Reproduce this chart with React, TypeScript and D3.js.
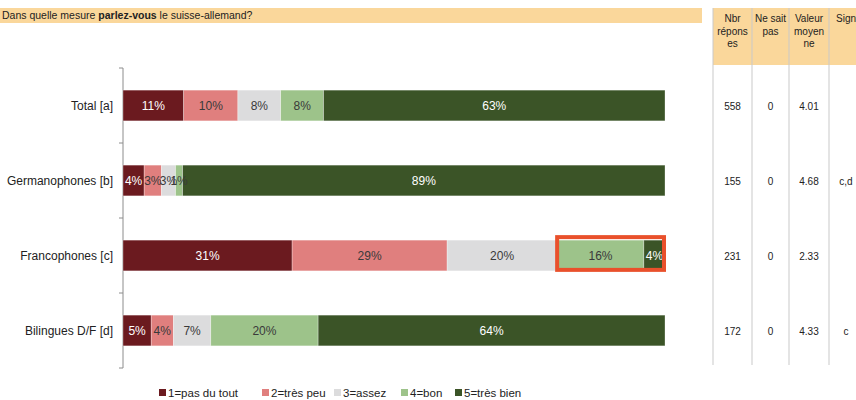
import React from "react";
import * as d3 from "d3";

const categories = ["Total [a]", "Germanophones [b]", "Francophones [c]", "Bilingues D/F [d]"];
const seriesNames = ["1=pas du tout", "2=très peu", "3=assez", "4=bon", "5=très bien"];
const seriesColors = ["#6b1a1f", "#e07f7e", "#dcdcdd", "#9dc38a", "#3b5427"];
const labelColors = ["#ffffff", "#3a3a3a", "#3a3a3a", "#3a3a3a", "#ffffff"];
const values: number[][] = [
  [11.2, 10.0, 7.9, 7.9, 63.0],
  [3.9, 3.2, 2.6, 1.3, 89.0],
  [31.2, 28.6, 20.3, 16.0, 3.9],
  [5.2, 4.1, 6.9, 19.8, 64.0],
];
const nbrReponses = ["558", "155", "231", "172"];
const neSaitPas = ["0", "0", "0", "0"];
const valeurMoyenne = ["4.01", "4.68", "2.33", "4.33"];
const signif = ["", "c,d", "", "c"];
const tableHeaders = [["Nbr", "répons", "es"], ["Ne sait", "pas"], ["Valeur", "moyen", "ne"], ["Sign"]];
const highlight = { row: 2, from: 3 };

const W = 856;
const H = 400;
const FONT = "'Liberation Sans', Arial, sans-serif";

export default function App() {
  const x = d3.scaleLinear().domain([0, 100]).range([123, 665]);
  const y = d3.scaleBand<string>().domain(categories).range([68, 368]).paddingInner(0.59).paddingOuter(0.295);
  const bw = y.bandwidth();
  const colX = [713, 752, 789, 829, 869];
  const colCenter = (i: number) => (i === 3 ? 846 : (colX[i] + colX[i + 1]) / 2);
  const tableCols = [nbrReponses, neSaitPas, valeurMoyenne, signif];
  const legendX = [159, 262, 334, 401, 455];

  const stacks = values.map((row) => {
    let acc = 0;
    return row.map((v) => {
      const s = acc;
      acc += v;
      return [s, acc];
    });
  });

  const hlRow = categories[highlight.row];
  const hlX0 = x(stacks[highlight.row][highlight.from][0]);
  const hlX1 = x(100);
  const hlY = y(hlRow)!;

  return (
    <svg width={W} height={H} style={{ position: "absolute", left: 0, top: 0, fontFamily: FONT }}>
      <rect x={0} y={0} width={W} height={H} fill="#ffffff" />
      {/* title band */}
      <rect x={0} y={8} width={702} height={15} fill="#fad79b" />
      <text x={2} y={19} fontSize={10.5} fill="#222">
        Dans quelle mesure <tspan fontWeight="bold">parlez-vous</tspan> le suisse-allemand?
      </text>
      {/* table header */}
      <rect x={713} y={8} width={W - 713} height={57} fill="#fad79b" />
      {tableHeaders.map((lines, i) =>
        lines.map((ln, j) => (
          <text key={`h${i}-${j}`} x={colCenter(i)} y={22 + j * 12.5} fontSize={10} textAnchor="middle" fill="#222">
            {ln}
          </text>
        ))
      )}
      {colX.slice(0, 4).map((cx, i) => (
        <line key={`v${i}`} x1={cx} x2={cx} y1={8} y2={365} stroke="#c9c9c9" strokeWidth={1} />
      ))}
      {categories.map((c, r) =>
        tableCols.map((col, i) => (
          <text key={`t${r}-${i}`} x={colCenter(i)} y={y(c)! + bw / 2 + 4} fontSize={10} textAnchor="middle" fill="#222">
            {col[r]}
          </text>
        ))
      )}
      {/* axis */}
      <line x1={123} x2={123} y1={68} y2={368} stroke="#8c8c8c" strokeWidth={1} />
      {d3.range(categories.length + 1).map((i) => {
        const ty = 68 + i * y.step();
        return <line key={`tk${i}`} x1={119} x2={123} y1={ty} y2={ty} stroke="#8c8c8c" strokeWidth={1} />;
      })}
      {categories.map((c) => (
        <text key={`c${c}`} x={113} y={y(c)! + bw / 2 + 4} fontSize={12} textAnchor="end" fill="#222">
          {c}
        </text>
      ))}
      {/* bars */}
      {categories.map((c, r) =>
        stacks[r].map(([s, e], k) => (
          <rect
            key={`b${r}-${k}`}
            x={x(s)}
            y={y(c)!}
            width={x(e) - x(s)}
            height={bw}
            fill={seriesColors[k]}
            stroke="#ffffff"
            strokeOpacity={0.5}
            strokeWidth={0.6}
          />
        ))
      )}
      {categories.map((c, r) =>
        stacks[r].map(([s, e], k) => (
          <text
            key={`l${r}-${k}`}
            x={(x(s) + x(e)) / 2}
            y={y(c)! + bw / 2 + 4.5}
            fontSize={12}
            textAnchor="middle"
            fill={labelColors[k]}
          >
            {`${Math.round(values[r][k])}%`}
          </text>
        ))
      )}
      {/* highlight */}
      <rect
        x={hlX0}
        y={hlY - 3}
        width={hlX1 - hlX0 - 1}
        height={bw + 2}
        fill="none"
        stroke="#e9502b"
        strokeWidth={4}
      />
      {/* legend */}
      {seriesNames.map((n, k) => (
        <g key={`lg${k}`}>
          <rect x={legendX[k]} y={389} width={7} height={7} fill={seriesColors[k]} />
          <text x={legendX[k] + 9} y={397} fontSize={11.5} fill="#222">
            {n}
          </text>
        </g>
      ))}
    </svg>
  );
}
